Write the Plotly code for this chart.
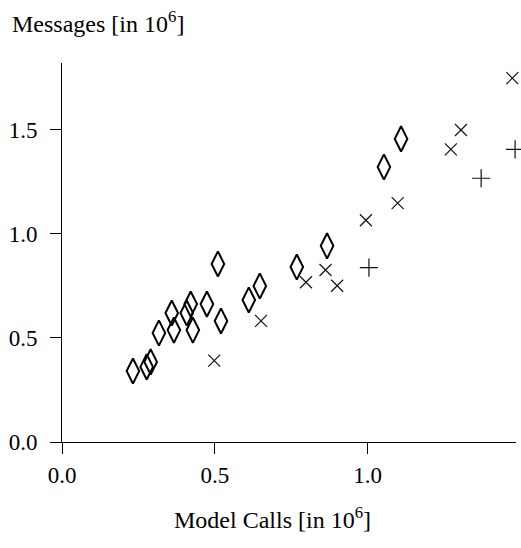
import plotly.graph_objects as go

# Data (values in 10^6)
diamond_x = [0.232, 0.277, 0.290, 0.317, 0.359, 0.366, 0.408, 0.421, 0.428, 0.474,
             0.510, 0.520, 0.611, 0.647, 0.768, 0.867, 1.053, 1.109]
diamond_y = [0.341, 0.361, 0.385, 0.524, 0.620, 0.538, 0.620, 0.663, 0.538, 0.663,
             0.856, 0.582, 0.683, 0.750, 0.841, 0.943, 1.322, 1.457]

cross_x = [0.498, 0.651, 0.798, 0.862, 0.900, 0.994, 1.098, 1.272, 1.305, 1.473]
cross_y = [0.391, 0.582, 0.768, 0.827, 0.751, 1.066, 1.148, 1.407, 1.500, 1.749]

plus_x = [1.004, 1.371, 1.482]
plus_y = [0.838, 1.268, 1.407]

x_ticks = [0.0, 0.5, 1.0]
x_ticktext = ["0.0", "0.5", "1.0"]
y_ticks = [0.0, 0.5, 1.0, 1.5]
y_ticktext = ["0.0", "0.5", "1.0", "1.5"]

FONT = "Liberation Serif, Times New Roman, serif"

fig = go.Figure()
fig.add_trace(go.Scatter(
    x=cross_x, y=cross_y, mode="markers", name="x",
    marker=dict(symbol="x-thin-open", size=12, color="#111",
                line=dict(width=1.2, color="#111")),
    cliponaxis=False, hoverinfo="skip"))
fig.add_trace(go.Scatter(
    x=plus_x, y=plus_y, mode="markers", name="+",
    marker=dict(symbol="cross-thin-open", size=13, color="#111",
                line=dict(width=1.2, color="#111")),
    cliponaxis=False, hoverinfo="skip"))
fig.add_trace(go.Scatter(
    x=diamond_x, y=diamond_y, mode="markers", name="diamond",
    marker=dict(symbol="diamond-tall-open", size=18, color="black",
                line=dict(width=2, color="black")),
    cliponaxis=False, hoverinfo="skip"))

axis_common = dict(showgrid=False, zeroline=False, showline=True, linecolor="black",
                   linewidth=1, ticks="outside", ticklen=11, tickcolor="black",
                   tickwidth=1, automargin=False,
                   tickfont=dict(family=FONT, size=23, color="black"))

fig.update_xaxes(range=[0, 1.485], tickvals=x_ticks, ticktext=x_ticktext,
                 ticklabelstandoff=1, **axis_common)
fig.update_yaxes(range=[0, 1.822], tickvals=y_ticks, ticktext=y_ticktext,
                 ticklabelstandoff=8, **axis_common)

fig.update_layout(
    width=521, height=548, autosize=False,
    margin=dict(l=62, r=5, t=63, b=106),
    plot_bgcolor="white", paper_bgcolor="white",
    showlegend=False,
    font=dict(family=FONT, color="black"),
    annotations=[
        dict(text="Messages [in 10<sup>6</sup>]", xref="paper", yref="paper",
             x=-0.1145, y=1.108, xanchor="left", yanchor="middle", showarrow=False,
             font=dict(family=FONT, size=24, color="black")),
        dict(text="Model Calls [in 10<sup>6</sup>]", xref="paper", yref="paper",
             x=0.4637, y=-0.200, xanchor="center", yanchor="middle", showarrow=False,
             font=dict(family=FONT, size=24, color="black")),
    ],
)

# remove the default 8px body margin so the 521x548 figure fills the window exactly
fig.write_html("out.html",
               config={"displayModeBar": False, "staticPlot": True},
               post_script="document.body.style.margin='0';document.body.style.overflow='hidden';")
